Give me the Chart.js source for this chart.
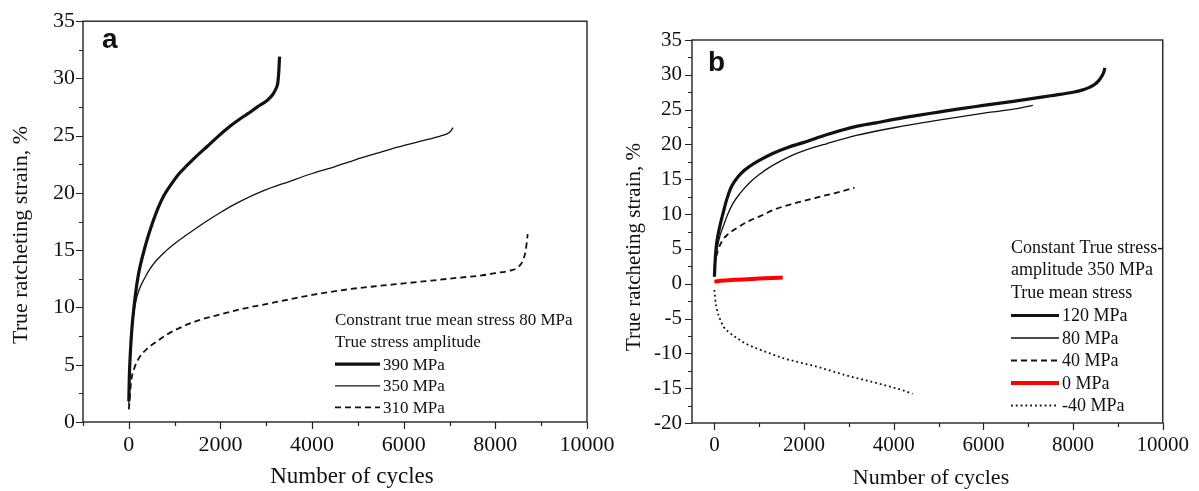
<!DOCTYPE html>
<html>
<head>
<meta charset="utf-8">
<script src="https://cdn.jsdelivr.net/npm/chart.js@4.4.1/dist/chart.umd.min.js"></script>
<style>
  html, body { margin: 0; padding: 0; background: #fff; }
  #wrap { position: relative; width: 1199px; height: 491px; overflow: hidden; }
  #chartA { position: absolute; left: 0; top: 0; }
  #chartB { position: absolute; left: 600px; top: 0; }
</style>
</head>
<body>
<div id="wrap">
  <canvas id="chartA" width="640" height="491" style="width:640px;height:491px"></canvas>
  <canvas id="chartB" width="599" height="491" style="width:599px;height:491px"></canvas>
</div>
<script>
// panel a - constant true mean stress 80 MPa
const cyclesA390 = [0, 10, 33, 70, 117, 170, 225, 334, 420, 518, 640, 769, 950, 1100, 1270, 1500, 1720, 1938, 2200, 2400, 2607, 2800, 3024, 3142, 3210, 3251, 3273, 3290];
const strainA390 = [1.8, 3.8, 6.0, 8.3, 10.2, 11.9, 13.2, 15.0, 16.2, 17.4, 18.7, 19.8, 20.9, 21.7, 22.4, 23.3, 24.1, 24.9, 25.8, 26.4, 26.95, 27.5, 28.1, 28.6, 29.1, 29.6, 30.6, 31.9];
const cyclesA350 = [0, 15, 50, 100, 151, 230, 351, 451, 600, 800, 977, 1250, 1646, 2000, 2400, 2941, 3500, 4000, 4500, 4946, 5400, 5865, 6350, 6825, 7000, 7076];
const strainA350 = [1.5, 4.5, 7.0, 9.2, 10.5, 11.6, 12.6, 13.3, 14.1, 14.9, 15.5, 16.3, 17.4, 18.3, 19.2, 20.2, 21.0, 21.7, 22.3, 22.9, 23.45, 24.0, 24.5, 25.0, 25.3, 25.7];
const cyclesA310 = [0, 53, 120, 225, 400, 600, 816, 1100, 1540, 2000, 2500, 2999, 3500, 4000, 4814, 5500, 6000, 6600, 7200, 7700, 8000, 8300, 8454, 8560, 8620, 8663, 8705];
const strainA310 = [1.1, 3.6, 4.7, 5.6, 6.4, 7.0, 7.6, 8.2, 8.9, 9.4, 9.9, 10.3, 10.7, 11.1, 11.6, 11.9, 12.1, 12.35, 12.6, 12.8, 13.0, 13.2, 13.4, 13.8, 14.3, 15.0, 16.4];

// panel b - constant true stress amplitude 350 MPa
const cyclesB120 = [0, 15, 40, 80, 133, 200, 270, 355, 450, 600, 798, 1000, 1300, 1650, 2000, 2500, 3164, 3600, 4000, 4500, 5000, 5500, 6000, 6500, 7000, 7500, 8000, 8200, 8363, 8480, 8577, 8640, 8680, 8710];
const strainB120 = [1.0, 3.2, 5.3, 7.0, 8.6, 10.3, 12.0, 13.6, 14.7, 15.9, 16.9, 17.7, 18.7, 19.6, 20.3, 21.4, 22.6, 23.1, 23.6, 24.15, 24.65, 25.15, 25.6, 26.05, 26.5, 27.0, 27.5, 27.8, 28.2, 28.6, 29.2, 29.8, 30.3, 31.0];
const cyclesB80 = [0, 20, 60, 120, 207, 300, 420, 576, 800, 1000, 1300, 1685, 2000, 2500, 3164, 4000, 5000, 6120, 6700, 7103];
const strainB80 = [1.2, 3.0, 5.0, 6.8, 8.4, 10.0, 11.6, 13.0, 14.6, 15.7, 17.0, 18.3, 19.1, 20.1, 21.3, 22.4, 23.5, 24.6, 25.1, 25.6];
const cyclesB40 = [0, 25, 80, 177, 300, 428, 600, 800, 1022, 1315, 1700, 2000, 2424, 2800, 3126];
const strainB40 = [2.5, 3.4, 4.8, 6.2, 7.1, 7.7, 8.4, 9.1, 9.7, 10.6, 11.4, 11.9, 12.6, 13.2, 13.8];
const cyclesB0 = [0, 200, 500, 725, 1000, 1300, 1523];
const strainB0 = [0.3, 0.45, 0.58, 0.65, 0.75, 0.83, 0.88];
const cyclesBm40 = [0, 20, 59, 120, 207, 330, 502, 700, 946, 1237, 1537, 1900, 2277, 2650, 3016, 3400, 3755, 4100, 4420];
const strainBm40 = [-0.9, -2.3, -3.8, -5.0, -6.2, -7.0, -7.8, -8.6, -9.3, -10.0, -10.7, -11.3, -11.9, -12.6, -13.3, -13.9, -14.5, -15.1, -15.8];

const serif = 'Liberation Serif, Times New Roman, serif';

function pts(xs, ys) {
    return xs.map((x, i) => ({ x: x, y: ys[i] }));
}

function series(label, xs, ys, color, width, dash) {
    return {
        label: label,
        data: pts(xs, ys),
        borderColor: color,
        borderWidth: width,
        borderDash: dash || [],
        fill: false
    };
}

// axes box, outward ticks, titles, legend block and panel letter
const framePlugin = {
    id: 'frame',
    afterDraw(chart, args, o) {
        const ctx = chart.ctx;
        const a = chart.chartArea;
        const xs = chart.scales.x, ys = chart.scales.y;
        ctx.save();
        ctx.strokeStyle = '#222';
        ctx.lineWidth = 1.4;
        ctx.strokeRect(a.left, a.top, a.right - a.left, a.bottom - a.top);

        ctx.lineWidth = 1.2;
        ctx.beginPath();
        xs.ticks.forEach(t => {
            const px = Math.round(xs.getPixelForValue(t.value)) + 0.5;
            const len = t.value % 2000 === 0 ? 7 : 4;
            ctx.moveTo(px, a.bottom);
            ctx.lineTo(px, a.bottom + len);
        });
        ys.ticks.forEach(t => {
            const py = Math.round(ys.getPixelForValue(t.value)) + 0.5;
            const len = t.value % 5 === 0 ? 7 : 4;
            ctx.moveTo(a.left, py);
            ctx.lineTo(a.left - len, py);
        });
        ctx.stroke();

        ctx.fillStyle = '#111';
        ctx.font = o.titleSize + 'px ' + serif;
        ctx.textAlign = 'center';
        ctx.textBaseline = 'middle';
        ctx.fillText('Number of cycles', o.xTitle[0], o.xTitle[1]);
        ctx.save();
        ctx.translate(o.yTitle[0], o.yTitle[1]);
        ctx.rotate(-Math.PI / 2);
        ctx.font = o.yTitleSize + 'px ' + serif;
        ctx.fillText('True ratcheting strain, %', 0, 0);
        ctx.restore();

        ctx.font = 'bold 28px Liberation Sans, Arial, sans-serif';
        ctx.textAlign = 'left';
        ctx.textBaseline = 'alphabetic';
        ctx.fillText(o.letter, o.letterPos[0], o.letterPos[1]);

        const lg = o.legend;
        ctx.font = lg.size + 'px ' + serif;
        ctx.textBaseline = 'middle';
        let y = lg.y;
        lg.header.forEach(line => {
            ctx.fillText(line, lg.x, y);
            y += lg.gap;
        });
        chart.data.datasets.forEach(ds => {
            ctx.beginPath();
            ctx.strokeStyle = ds.borderColor;
            ctx.lineWidth = ds.borderWidth;
            ctx.setLineDash(ds.borderDash);
            ctx.moveTo(lg.x, y);
            ctx.lineTo(lg.x + lg.sample, y);
            ctx.stroke();
            ctx.setLineDash([]);
            ctx.fillText(ds.label, lg.x + lg.sample + 3, y + 1);
            y += lg.gap;
        });
        ctx.restore();
    }
};

function makeChart(id, datasets, opt) {
    return new Chart(document.getElementById(id), {
        type: 'line',
        data: { datasets: datasets },
        options: {
            responsive: false,
            animation: false,
            events: [],
            layout: { autoPadding: false, padding: opt.padding },
            elements: {
                point: { radius: 0 },
                line: { cubicInterpolationMode: 'monotone', borderCapStyle: 'butt', borderJoinStyle: 'round' }
            },
            plugins: {
                legend: { display: false },
                tooltip: { enabled: false },
                frame: opt.frame
            },
            scales: {
                x: {
                    type: 'linear',
                    min: opt.xMin,
                    max: 10000,
                    afterFit: s => { s.height = opt.xHeight; },
                    afterBuildTicks: s => {
                        const t = [];
                        for (let v = Math.ceil(s.min / 1000) * 1000; v <= s.max; v += 1000) t.push({ value: v });
                        s.ticks = t;
                    },
                    grid: { display: false, drawTicks: false },
                    border: { display: false },
                    ticks: {
                        autoSkip: false,
                        maxRotation: 0,
                        padding: opt.xPad,
                        color: '#111',
                        font: { family: serif, size: opt.tickSize },
                        callback: v => (v % 2000 === 0 ? String(v) : '')
                    }
                },
                y: {
                    type: 'linear',
                    min: opt.yMin,
                    max: 35,
                    afterFit: s => { s.width = opt.yWidth; },
                    grid: { display: false, drawTicks: false },
                    border: { display: false },
                    ticks: {
                        stepSize: 2.5,
                        autoSkip: false,
                        padding: opt.yPad,
                        color: '#111',
                        font: { family: serif, size: opt.tickSize },
                        callback: v => (v % 5 === 0 ? String(v) : '')
                    }
                }
            }
        },
        plugins: [framePlugin]
    });
}

document.addEventListener('DOMContentLoaded', () => {
    makeChart('chartA', [
        series('390 MPa', cyclesA390, strainA390, '#111', 3.2),
        series('350 MPa', cyclesA350, strainA350, '#111', 1.3),
        series('310 MPa', cyclesA310, strainA310, '#111', 1.8, [6, 4])
    ], {
        padding: { left: 0, top: 16, right: 53, bottom: 0 },
        xMin: -1000, yMin: 0, xHeight: 69, yWidth: 83,
        xPad: 10, yPad: 8, tickSize: 22,
        frame: {
            titleSize: 23, yTitleSize: 22,
            xTitle: [352, 477], yTitle: [21, 235],
            letter: 'a', letterPos: [102, 48],
            legend: {
                x: 335, y: 321, gap: 21.6, sample: 45, size: 17,
                header: ['Constrant true mean stress 80 MPa', 'True stress amplitude']
            }
        }
    });

    makeChart('chartB', [
        series('120 MPa', cyclesB120, strainB120, '#111', 3.2),
        series('80 MPa', cyclesB80, strainB80, '#111', 1.3),
        series('40 MPa', cyclesB40, strainB40, '#111', 1.8, [6, 4]),
        series('0 MPa', cyclesB0, strainB0, '#ff0000', 4),
        series('-40 MPa', cyclesBm40, strainBm40, '#111', 1.8, [1.8, 3])
    ], {
        padding: { left: 0, top: 40, right: 29, bottom: 0 },
        xMin: -500, yMin: -20, xHeight: 68, yWidth: 92,
        xPad: 10, yPad: 10, tickSize: 21,
        frame: {
            titleSize: 22, yTitleSize: 21,
            xTitle: [331, 478], yTitle: [34, 247],
            letter: 'b', letterPos: [108, 71],
            legend: {
                x: 411, y: 248, gap: 22.5, sample: 48, size: 18,
                header: ['Constant True stress-', 'amplitude 350 MPa', 'True mean stress']
            }
        }
    });
});
</script>
</body>
</html>
